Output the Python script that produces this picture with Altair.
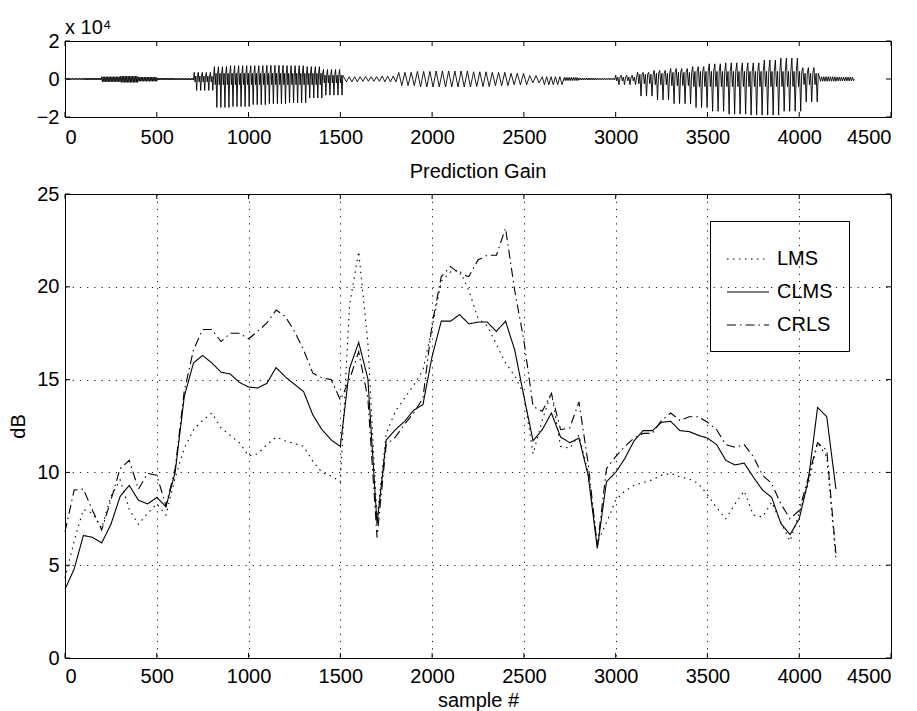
import altair as alt
import pandas as pd

FONT = "Liberation Sans"

# ---- prediction gain curves, one value every 50 samples ----
samples = list(range(0, 4201, 50))

lms = [4.3, 6.3, 8.0, 7.8, 7.0, 8.7, 9.6, 8.0, 7.2, 7.8,
       8.3, 7.7, 9.7, 11.3, 12.3, 12.8, 13.2, 12.4, 12.0, 11.6,
       10.9, 11.0, 11.5, 11.9, 11.7, 11.55, 11.4, 10.6, 10.0, 9.8,
       9.5, 19.0, 21.9, 17.0, 7.5, 12.1, 13.3, 14.0, 14.7, 15.5,
       17.8, 20.3, 20.8, 20.9, 19.8, 18.3, 17.9, 16.9, 15.9, 15.2,
       14.2, 11.0, 12.8, 14.3, 11.4, 11.3, 12.0, 10.0, 6.2, 7.3,
       8.5, 9.0, 9.3, 9.45, 9.6, 9.85, 9.95, 9.75, 9.65, 9.4,
       8.8, 8.1, 7.5, 8.3, 9.0, 7.7, 7.6, 8.4, 7.3, 6.3,
       7.8, 9.4, 11.6, 10.85, 5.3]

clms = [3.7, 4.8, 6.6, 6.5, 6.2, 7.2, 8.7, 9.3, 8.5, 8.3,
        8.65, 8.15, 10.0, 14.1, 15.9, 16.3, 15.9, 15.4, 15.3, 14.85,
        14.6, 14.55, 14.8, 15.65, 15.15, 14.75, 14.35, 13.1, 12.3, 11.75,
        11.4, 15.6, 17.0, 15.05, 7.2, 11.75, 12.3, 12.75, 13.35, 13.65,
        16.25, 18.15, 18.15, 18.5, 18.0, 18.1, 18.1, 17.6, 18.15, 16.6,
        14.1, 11.7, 12.3, 13.2, 11.9, 11.6, 11.85, 9.85, 5.9, 9.5,
        10.0, 10.75, 11.7, 12.25, 12.25, 12.7, 12.75, 12.25, 12.2, 12.0,
        11.85, 11.5, 10.65, 10.4, 10.5, 9.75, 9.05, 8.65, 7.25, 6.65,
        7.5, 9.6, 13.5, 13.0, 9.1]

crls = [6.8, 9.05, 9.1, 7.95, 6.9, 8.5, 10.2, 10.65, 9.1, 9.95,
        9.85, 8.2, 10.2, 14.4, 16.6, 17.7, 17.7, 17.05, 17.5, 17.5,
        17.2, 17.6, 18.05, 18.75, 18.4, 17.6, 16.6, 15.35, 15.1, 15.0,
        13.9, 15.0, 16.5, 14.0, 6.5, 11.5, 11.9, 12.6, 13.2, 14.0,
        18.0, 20.55, 21.1, 20.7, 20.55, 21.45, 21.7, 21.7, 23.15, 19.8,
        17.1, 13.55, 13.3, 14.25, 12.3, 12.4, 13.8, 10.5, 6.0, 10.2,
        10.85, 11.4, 11.85, 12.1, 12.1, 12.8, 13.2, 12.8, 13.0, 13.0,
        12.7, 12.3, 11.5, 11.35, 11.5, 10.85, 9.85, 9.4, 8.3, 7.5,
        7.95, 9.75, 11.6, 11.2, 5.6]

methods = ["LMS", "CLMS", "CRLS"]

# ---- speech waveform envelope (x 10^4), one entry per 100-sample block ----
block_start = list(range(0, 4300, 100))
wave_top = [0.04, 0.05, 0.12, 0.15, 0.10, 0.05, 0.04, 0.35, 0.65, 0.70,
            0.70, 0.72, 0.70, 0.65, 0.50, 0.12, 0.12, 0.15, 0.35, 0.40,
            0.42, 0.42, 0.38, 0.35, 0.30, 0.18, 0.12, 0.08, 0.05, 0.04,
            0.20, 0.35, 0.45, 0.55, 0.65, 0.80, 0.85, 0.85, 1.00, 1.10,
            0.60, 0.12, 0.10]
wave_bottom = [-0.04, -0.05, -0.15, -0.18, -0.12, -0.05, -0.05, -0.60, -1.50, -1.45,
               -1.35, -1.30, -1.25, -1.00, -0.85, -0.15, -0.12, -0.15, -0.35, -0.42,
               -0.42, -0.42, -0.40, -0.35, -0.30, -0.20, -0.30, -0.08, -0.05, -0.04,
               -0.30, -0.90, -1.10, -1.30, -1.50, -1.70, -1.85, -1.90, -1.90, -1.70,
               -1.20, -0.12, -0.10]
wave_mid = [0, 0, 0, 0, 0, 0, 0, 0.15, 0.30, 0.30,
            0.30, 0.30, 0.30, 0.30, 0.20, 0, 0, 0, 0, 0,
            0, 0, 0, 0, 0, 0, 0, 0, 0, 0,
            0.10, 0.25, 0.30, 0.35, 0.40, 0.40, 0.40, 0.40, 0.40, 0.40,
            0.30, 0, 0]
wave_period = [8, 8, 8, 8, 8, 8, 8, 22, 22, 22,
               22, 22, 22, 22, 22, 30, 30, 30, 34, 34,
               34, 34, 34, 34, 34, 34, 24, 10, 10, 10,
               30, 30, 30, 30, 30, 30, 30, 30, 30, 30,
               30, 12, 12]

# expand each block's envelope into an oscillating trace
wave_n, wave_amp = [0.0], [0.0]
t = 0.0
for b0, top, bot, mid, per in zip(block_start, wave_top, wave_bottom, wave_mid, wave_period):
    pattern = [top, -mid, mid, bot, mid] if mid > 0 else [top, bot]
    step = per / len(pattern)
    while t < b0 + 100:
        for k, v in enumerate(pattern):
            wave_n.append(t + k * step)
            wave_amp.append(v)
        t += per
wave_n.append(4300.0)
wave_amp.append(0.0)

x_ticks = list(range(0, 4501, 500))
wave_ticks = [-2, 0, 2]
gain_ticks = [0, 5, 10, 15, 20, 25]

W = 826
H_TOP = 76
H_BOT = 464
TICK = 5

x_scale = alt.Scale(domain=[0, 4500], nice=False, zero=False)

# ---------------- top panel: waveform ----------------
top_x_axis = alt.Axis(values=x_ticks, title=None, ticks=False, grid=False, format="d",
                      labelPadding=10, domain=False)
top_y_axis = alt.Axis(values=wave_ticks, title=None, ticks=False, grid=False, format="d",
                      labelPadding=6, domain=False)
wave_y = alt.Scale(domain=[-2, 2], nice=False)

wave_df = pd.DataFrame({"n": wave_n, "amp": wave_amp})
wave_line = alt.Chart(wave_df).mark_line(color="black", strokeWidth=0.9).encode(
    x=alt.X("n:Q", scale=x_scale, axis=top_x_axis),
    y=alt.Y("amp:Q", scale=wave_y, axis=top_y_axis),
)

wx = pd.DataFrame({"n": x_ticks})
wy = pd.DataFrame({"amp": wave_ticks})
wave_tick_top = alt.Chart(wx).mark_rule(color="black").encode(
    x=alt.X("n:Q", scale=x_scale, axis=top_x_axis), y=alt.value(0), y2=alt.value(TICK))
wave_tick_bot = alt.Chart(wx).mark_rule(color="black").encode(
    x=alt.X("n:Q", scale=x_scale, axis=top_x_axis), y=alt.value(H_TOP - TICK), y2=alt.value(H_TOP))
wave_tick_l = alt.Chart(wy).mark_rule(color="black").encode(
    y=alt.Y("amp:Q", scale=wave_y, axis=top_y_axis), x=alt.value(0), x2=alt.value(TICK))
wave_tick_r = alt.Chart(wy).mark_rule(color="black").encode(
    y=alt.Y("amp:Q", scale=wave_y, axis=top_y_axis), x=alt.value(W - TICK), x2=alt.value(W))

top = alt.layer(wave_line, wave_tick_top, wave_tick_bot, wave_tick_l, wave_tick_r).properties(
    width=W, height=H_TOP,
    title=alt.TitleParams("x 10\u2074", anchor="start", frame="group", fontSize=20,
                          font=FONT, fontWeight="normal", offset=-7, color="black"),
)

# ---------------- bottom panel: prediction gain ----------------
rows = []
for name, vals in zip(methods, [lms, clms, crls]):
    for s, v in zip(samples, vals):
        rows.append({"sample": s, "gain": v, "method": name})
gain_df = pd.DataFrame(rows)

bot_x_axis = alt.Axis(values=x_ticks, title="sample #", ticks=False, grid=True, format="d",
                      labelPadding=8, titlePadding=4, domain=False)
bot_y_axis = alt.Axis(values=gain_ticks, title="dB", ticks=False, grid=True, format="d",
                      labelPadding=6, titlePadding=8, domain=False)
gain_y = alt.Scale(domain=[0, 25], nice=False)

lines = alt.Chart(gain_df).mark_line(color="black", strokeWidth=1.1).encode(
    x=alt.X("sample:Q", scale=x_scale, axis=bot_x_axis),
    y=alt.Y("gain:Q", scale=gain_y, axis=bot_y_axis),
    strokeDash=alt.StrokeDash(
        "method:N",
        scale=alt.Scale(domain=methods, range=[[1.5, 4.5], [1, 0], [9, 4, 1.5, 4]]),
        sort=methods,
        legend=alt.Legend(
            title=None, orient="none", legendX=645, legendY=27, direction="vertical",
            symbolType="stroke", symbolSize=1764, symbolStrokeWidth=1.1,
            symbolStrokeColor="black", labelFontSize=20, labelFont=FONT,
            labelColor="black", labelOffset=7, rowPadding=1, padding=16,
            strokeColor="black",
        ),
    ),
    detail="method:N",
)

gx = pd.DataFrame({"sample": x_ticks})
gy = pd.DataFrame({"gain": gain_ticks})
gain_tick_top = alt.Chart(gx).mark_rule(color="black").encode(
    x=alt.X("sample:Q", scale=x_scale, axis=bot_x_axis), y=alt.value(0), y2=alt.value(TICK))
gain_tick_bot = alt.Chart(gx).mark_rule(color="black").encode(
    x=alt.X("sample:Q", scale=x_scale, axis=bot_x_axis), y=alt.value(H_BOT - TICK), y2=alt.value(H_BOT))
gain_tick_l = alt.Chart(gy).mark_rule(color="black").encode(
    y=alt.Y("gain:Q", scale=gain_y, axis=bot_y_axis), x=alt.value(0), x2=alt.value(TICK))
gain_tick_r = alt.Chart(gy).mark_rule(color="black").encode(
    y=alt.Y("gain:Q", scale=gain_y, axis=bot_y_axis), x=alt.value(W - TICK), x2=alt.value(W))

bottom = alt.layer(lines, gain_tick_top, gain_tick_bot, gain_tick_l, gain_tick_r).properties(
    width=W, height=H_BOT,
    title=alt.TitleParams("Prediction Gain", anchor="middle", frame="group", fontSize=20,
                          font=FONT, fontWeight="normal", offset=2, color="black"),
)

chart = alt.vconcat(top, bottom, spacing=13).resolve_legend(
    strokeDash="independent"
).properties(
    padding={"left": 8, "top": 17, "right": 10, "bottom": 4},
    background="white",
).configure_view(
    stroke="black", strokeWidth=1,
).configure_axis(
    labelFont=FONT, labelFontSize=20, labelColor="black",
    titleFont=FONT, titleFontSize=20, titleColor="black", titleFontWeight="normal",
    gridColor="black", gridDash=[1.2, 6], gridWidth=1, gridOpacity=0.9,
)

chart.save("out.html", embed_options={"renderer": "svg", "actions": False})
